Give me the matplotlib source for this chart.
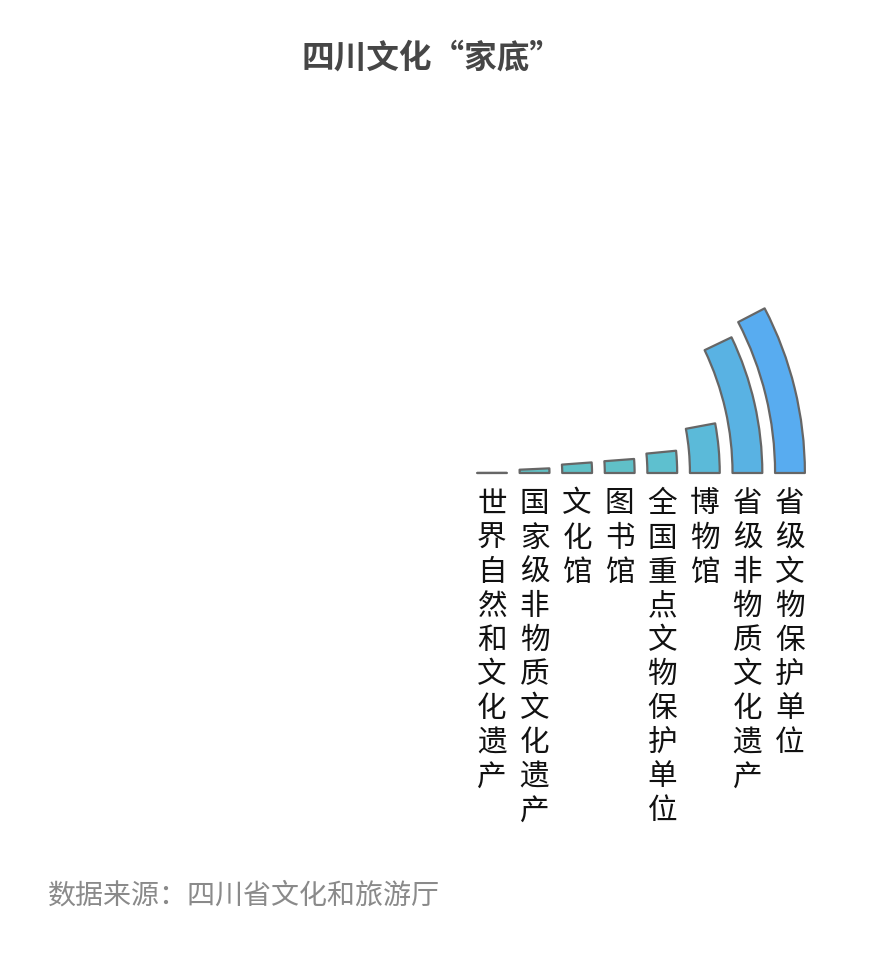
import numpy as np
import matplotlib
matplotlib.use("Agg")
import matplotlib.pyplot as plt

plt.rcParams['font.family'] = ['Noto Sans CJK SC', 'DejaVu Sans']

# data
categories = ['世界自然和文化遗产', '国家级非物质文化遗产', '文化馆', '图书馆',
              '全国重点文物保护单位', '博物馆', '省级非物质文化遗产', '省级文物保护单位']
values = [5, 125, 200, 205, 265, 500, 1215, 1305]

title = '四川文化“家底”'
source = '数据来源：四川省文化和旅游厅'

# angle axis: full circle corresponds to this value
angle_max = 17100

# teal -> blue, one per bar
bar_colors = ['#64c2c2', '#62c0c4', '#60c0c6', '#60c0c8', '#5ec0cf',
              '#5bbad9', '#59b2e3', '#58acf0']

W, H = 870, 964
fig = plt.figure(figsize=(W / 100, H / 100), dpi=100)

# polar axes, centre off to the left of the bars, radius in pixels
cx, cy = 448, 473
R = 380
ax = fig.add_axes([(cx - R) / W, (H - cy - R) / H, 2 * R / W, 2 * R / H],
                  projection='polar')
ax.set_ylim(0, R)
ax.set_axis_off()

r0, band = 22.7, 42.57
thick = band * 0.7

for i, (cat, v) in enumerate(zip(categories, values)):
    rc = r0 + (i + 0.5) * band
    theta = v / angle_max * 2 * np.pi
    ax.bar(0, thick, width=theta, bottom=rc - thick / 2, align='edge',
           color=bar_colors[i], edgecolor='#666666', linewidth=1.6,
           joinstyle='round')
    # vertical label, one character per row
    for k, ch in enumerate(cat):
        ax.annotate(ch, xy=(0, rc), xycoords='data',
                    xytext=(0, -(31 + k * 34.1) * 0.72), textcoords='offset points',
                    ha='center', va='center', fontsize=21.3, color='#111111')

fig.text(432 / W, 1 - 58 / H, title, ha='center', va='center',
         fontsize=23.5, fontweight='bold', color='#464646')
fig.text(48 / W, 1 - 896 / H, source, ha='left', va='center',
         fontsize=20.2, color='#8a8a8a')

fig.savefig('out.png', dpi=100)
